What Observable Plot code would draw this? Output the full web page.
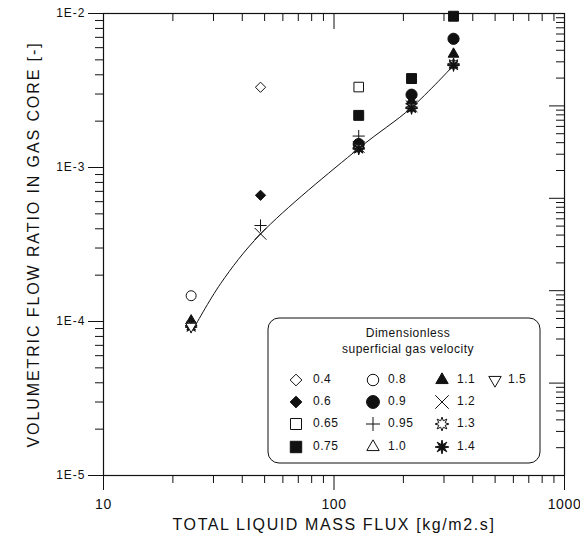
<!DOCTYPE html>
<html>
<head>
<meta charset="utf-8">
<script src="https://cdn.jsdelivr.net/npm/d3@7"></script>
<script src="https://cdn.jsdelivr.net/npm/@observablehq/plot@0.6"></script>
<style>
  html, body { margin: 0; padding: 0; background: #fff; }
  #chart { position: relative; width: 580px; height: 549px; }
</style>
</head>
<body>
<div id="chart"></div>
<script>
// ---------- data ----------
const xMajorTicks = [10, 100, 1000];
const xMinorTicks = [20, 30, 40, 50, 60, 70, 80, 90, 200, 300, 400, 500, 600, 700, 800, 900];
const yMajorTicks = [1e-5, 1e-4, 1e-3, 1e-2];
const yMinorTicks = [2e-5,3e-5,4e-5,5e-5,6e-5,7e-5,8e-5,9e-5,2e-4,3e-4,4e-4,5e-4,6e-4,7e-4,8e-4,9e-4,2e-3,3e-3,4e-3,5e-3,6e-3,7e-3,8e-3,9e-3];
// the right-hand axis of the original is drawn with a 5-decade spacing
const rightMajorTicks = [1e-6, 1e-5, 1e-4, 1e-3, 1e-2, 1e-1];
const rightMinorFactors = [2, 3, 4, 5, 6, 7, 8, 9];

const xTitle = "TOTAL LIQUID MASS FLUX [kg/m2.s]";
const yTitle = "VOLUMETRIC FLOW RATIO IN GAS CORE [-]";
const legendTitle = ["Dimensionless", "superficial gas velocity"];

const seriesLabels = ["0.4", "0.6", "0.65", "0.75", "0.8", "0.9", "0.95", "1.0", "1.1", "1.2", "1.3", "1.4", "1.5"];

// [liquid mass flux, volumetric flow ratio]
const v04  = [[48, 3.32e-3]];
const v06  = [[48, 6.6e-4]];
const v065 = [[128, 3.33e-3]];
const v075 = [[128, 2.18e-3], [217, 3.78e-3], [330, 9.6e-3]];
const v08  = [[24, 1.47e-4]];
const v09  = [[128, 1.42e-3], [217, 2.97e-3], [330, 6.85e-3]];
const v095 = [[48, 4.2e-4], [128, 1.6e-3], [217, 2.6e-3], [330, 4.65e-3]];
const v10  = [[24, 9.8e-5]];
const v11  = [[24, 1.01e-4], [128, 1.4e-3], [217, 2.7e-3], [330, 5.45e-3]];
const v12  = [[48, 3.71e-4], [128, 1.36e-3], [217, 2.5e-3]];
const v13  = [[24, 9.4e-5], [128, 1.34e-3], [217, 2.46e-3], [330, 4.7e-3]];
const v14  = [[24, 9.2e-5], [128, 1.32e-3], [217, 2.42e-3], [330, 4.6e-3]];
const v15  = [[24, 9.3e-5]];
const seriesValues = [v04, v06, v065, v075, v08, v09, v095, v10, v11, v12, v13, v14, v15];

// correlation curve, points
const fitG     = [24.6, 32.2, 48, 128, 217, 330];
const fitRatio = [9.0e-5, 1.76e-4, 3.7e-4, 1.33e-3, 2.45e-3, 4.6e-3];

// ---------- styles ----------
function star8(inner) {
  return {draw(ctx, size) {
    const r = Math.sqrt(size / Math.PI);
    for (let i = 0; i < 16; i++) {
      const a = i * Math.PI / 8 - Math.PI / 2;
      const rr = i % 2 ? r * inner : r;
      const px = rr * Math.cos(a), py = rr * Math.sin(a);
      if (i) ctx.lineTo(px, py); else ctx.moveTo(px, py);
    }
    ctx.closePath();
  }};
}
const openStar = star8(0.5);
const filledStar = star8(0.38);
const styles = [
  {symbol: "diamond2", filled: false, r: 4.6},
  {symbol: "diamond2", filled: true,  r: 4.6},
  {symbol: "square",   filled: false, r: 5.4},
  {symbol: "square",   filled: true,  r: 5.6},
  {symbol: "circle",   filled: false, r: 5},
  {symbol: "circle",   filled: true,  r: 5.6},
  {symbol: "plus",     filled: false, r: 4},
  {symbol: "triangle", filled: false, r: 4},
  {symbol: "triangle", filled: true,  r: 4},
  {symbol: "times",    filled: false, r: 5.4},
  {symbol: openStar,   filled: false, r: 6},
  {symbol: filledStar, filled: true,  r: 6},
  {symbol: "triangle", filled: false, r: 4, rotate: 180}
];

const W = 580, H = 549, mL = 103, mR = 16, mT = 13, mB = 74;
const fw = W - mL - mR, fh = H - mT - mB;
const ink = "#111";
const font = "'Liberation Sans', Arial, Helvetica, sans-serif";

// map right-axis values (5 decades) onto the y scale's 3 decades
const toY = v => Math.pow(10, -5 + 3 * (Math.log10(v) + 6) / 5);
const rightMajor = rightMajorTicks.map(toY);
const rightMinor = rightMajorTicks.slice(0, -1).flatMap(m => rightMinorFactors.map(f => toY(m * f)));

const fit = fitG.map((g, i) => ({g, v: fitRatio[i]}));
const yFmt = d => "1E" + Math.round(Math.log10(d));

const dotMarks = seriesValues.map((vals, i) => {
  const s = styles[i];
  return Plot.dot(vals, {
    x: d => d[0], y: d => d[1],
    symbol: s.symbol, r: s.r, rotate: s.rotate || 0,
    fill: s.filled ? ink : "white",
    stroke: ink, strokeWidth: 1
  });
});

const chart = Plot.plot({
  width: W, height: H,
  marginLeft: mL, marginRight: mR, marginTop: mT, marginBottom: mB,
  x: {type: "log", domain: [10, 1000], axis: null},
  y: {type: "log", domain: [1e-5, 1e-2], axis: null},
  style: {background: "white", color: ink, fontFamily: font},
  marks: [
    Plot.frame({stroke: ink, strokeWidth: 1.2}),
    // bottom ticks (outward)
    Plot.ruleX(xMajorTicks, {x: d => d, insetTop: fh, insetBottom: -15, stroke: ink}),
    Plot.ruleX(xMinorTicks, {x: d => d, insetTop: fh, insetBottom: -8, stroke: ink}),
    // top ticks (inward)
    Plot.ruleX(xMajorTicks, {x: d => d, insetTop: 0, insetBottom: fh - 16, stroke: ink}),
    Plot.ruleX(xMinorTicks, {x: d => d, insetTop: 0, insetBottom: fh - 8, stroke: ink}),
    // left ticks (outward)
    Plot.ruleY(yMajorTicks, {y: d => d, insetLeft: -15, insetRight: fw, stroke: ink}),
    Plot.ruleY(yMinorTicks, {y: d => d, insetLeft: -8, insetRight: fw, stroke: ink}),
    // right ticks (inward)
    Plot.ruleY(rightMajor, {y: d => d, insetLeft: fw - 15, insetRight: 0, stroke: ink}),
    Plot.ruleY(rightMinor, {y: d => d, insetLeft: fw - 8, insetRight: 0, stroke: ink}),
    // tick labels
    Plot.text(xMajorTicks, {x: d => d, text: d => String(d), frameAnchor: "bottom", dy: 33, fontSize: 14, fill: ink}),
    Plot.text(yMajorTicks, {y: d => d, text: yFmt, frameAnchor: "left", dx: -18, textAnchor: "end", fontSize: 12, fill: ink}),
    // titles
    Plot.text([xTitle], {text: d => d, frameAnchor: "bottom", dy: 54, textAnchor: "middle", fontSize: 16, fill: ink}),
    Plot.text([yTitle], {text: d => d, frameAnchor: "left", dx: -70, rotate: -90, textAnchor: "middle", fontSize: 16, fill: ink}),
    // correlation curve
    Plot.line(fit, {x: "g", y: "v", curve: "catmull-rom", stroke: ink, strokeWidth: 1}),
    ...dotMarks
  ]
});
document.getElementById("chart").appendChild(chart);

const svg = d3.select(chart);
const spacing = new Map([[xTitle, "1.6px"], [yTitle, "1.9px"]]);
xMajorTicks.forEach(d => spacing.set(String(d), "0.6px"));
yMajorTicks.forEach(d => spacing.set(yFmt(d), "1px"));
svg.selectAll("text").each(function() {
  const sp = spacing.get(this.textContent);
  if (sp) d3.select(this).style("letter-spacing", sp);
});

// ---------- legend (inside the frame) ----------
const lg = svg.append("g").attr("class", "legend").style("font-family", font);
const box = {x: 268, y: 318, w: 272, h: 145};
lg.append("rect").attr("x", box.x).attr("y", box.y).attr("width", box.w).attr("height", box.h)
  .attr("rx", 11).attr("fill", "white").attr("stroke", ink).attr("stroke-width", 1);
legendTitle.forEach((t, i) => {
  lg.append("text").attr("x", 408).attr("y", box.y + 16 + i * 16)
    .attr("text-anchor", "middle").attr("dominant-baseline", "middle")
    .attr("font-size", 12).style("letter-spacing", "0.5px").attr("fill", ink).text(t);
});
const symMap = {diamond2: d3.symbolDiamond2, square: d3.symbolSquare, circle: d3.symbolCircle, plus: d3.symbolPlus, triangle: d3.symbolTriangle, times: d3.symbolTimes};
const colX = [296, 373, 442, 495];
const labelX = [313, 388, 457, 508];
const rowY = [380, 402, 424, 447];
const order = [[0,1,2,3],[4,5,6,7],[8,9,10,11],[12]];
order.forEach((col, ci) => col.forEach((si, ri) => {
  const s = styles[si];
  const type = typeof s.symbol === "string" ? symMap[s.symbol] : s.symbol;
  const rr = s.r * 1.15;
  lg.append("path")
    .attr("d", d3.symbol(type, Math.PI * rr * rr)())
    .attr("transform", `translate(${colX[ci]},${rowY[ri]}) rotate(${s.rotate || 0})`)
    .attr("fill", s.filled ? ink : "white").attr("stroke", ink).attr("stroke-width", 1);
  lg.append("text").attr("x", labelX[ci]).attr("y", rowY[ri])
    .attr("text-anchor", "start").attr("dominant-baseline", "middle")
    .attr("font-size", 12).style("letter-spacing", "0.5px")
    .attr("fill", ink).text(seriesLabels[si]);
}));
</script>
</body>
</html>
